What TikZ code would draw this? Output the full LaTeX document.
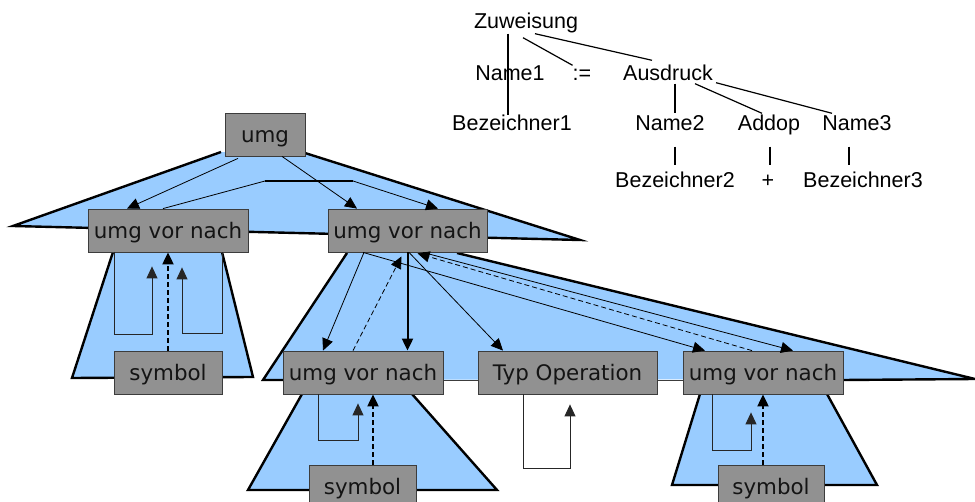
\documentclass[tikz,border=0pt]{standalone}
\usepackage{fontspec}
\setmainfont{Liberation Sans}
\newfontfamily\boxfont{DejaVu Sans}
\usetikzlibrary{arrows.meta}
\definecolor{triblue}{RGB}{153,204,255}
\definecolor{boxgray}{RGB}{145,145,145}
\definecolor{boxline}{RGB}{60,60,60}
\begin{document}
\begin{tikzpicture}[x=1pt,y=-1pt,
  box/.style={draw=boxline, line width=0.8pt, fill=boxgray, inner sep=0pt,
    minimum height=43pt, text height=16pt, text depth=0pt,
    font=\boxfont\fontsize{21.4}{25}\selectfont, text=black!92},
  word/.style={inner sep=0pt, anchor=base, text height=15.5pt, text depth=4.5pt,
    font=\fontsize{21.5}{26}\selectfont},
  tri/.style={fill=triblue},
  rim/.style={line width=2.4pt, line join=miter},
  thinrim/.style={line width=0.9pt, draw=boxline},
  tip/.style={-{Triangle[length=12pt,width=11pt]}},
  flow/.style={tip, line width=0.8pt},
  boldflow/.style={tip, line width=2pt},
  back/.style={tip, line width=0.8pt, dash pattern=on 5pt off 3pt},
  boldback/.style={tip, line width=2pt, dash pattern=on 5pt off 3pt},
  loopback/.style={tip, line width=0.9pt, draw=black!85},
  tree/.style={line width=1.2pt}
]
\useasboundingbox (0,0) rectangle (975,502);

% attribute flow areas
\fill[tri] (221,152) -- (13,226) -- (580,240) -- (305,153) -- cycle;
\draw[rim] (221,152) -- (13,226) -- (580,240) -- (305,153);

\fill[tri] (113,252) -- (72,378) -- (253,377) -- (222,252) -- cycle;
\draw[rim] (113,252) -- (72,378) -- (253,377) -- (222,252);

\fill[tri] (347,253) -- (263,380) -- (975,379) -- (457,253) -- cycle;
\draw[rim] (347,253) -- (263,380) -- (283,380);
\draw[thinrim] (443,380) -- (683,380);
\draw[rim] (843,380) -- (975,379) -- (457,253);

\fill[tri] (302,394) -- (248,490) -- (497,490) -- (412,394) -- cycle;
\draw[rim] (302,394) -- (248,490) -- (497,490) -- (412,394);

\fill[tri] (700,394) -- (672,485) -- (877,485) -- (827,394) -- cycle;
\draw[rim] (700,394) -- (672,485) -- (877,485) -- (827,394);

% syntax tree nodes
\node[box, minimum width=80pt]  (umg) at (265,134.5) {umg};
\node[box, minimum width=160pt] (A)   at (168,230.5) {umg vor nach};
\node[box, minimum width=159pt] (B)   at (407.5,230.5) {umg vor nach};
\node[box, minimum width=160pt] (C)   at (363,372.5) {umg vor nach};
\node[box, minimum width=179pt] (D)   at (567.5,372.5) {Typ Operation};
\node[box, minimum width=160pt] (E)   at (763,372.5) {umg vor nach};
\node[box, minimum width=108pt] (S1)  at (168,372.5) {symbol};
\node[box, minimum width=107pt] (S2)  at (362.5,486.5) {symbol};
\node[box, minimum width=106pt] (S3)  at (771,486.5) {symbol};

% flow from umg
\coordinate (j1) at (265,181);
\coordinate (j2) at (353,181);
\draw[flow] ([xshift=-27pt,yshift=-2pt]umg.south) -- ([xshift=-41pt]A.north);
\draw[flow] ([xshift=-5pt]A.north) -- (j1) -- (j2) -- ([xshift=30.5pt]B.north);
\draw[line width=1.8pt] (j1) -- (j2);
\draw[flow] ([xshift=17pt]umg.south) -- ([xshift=-50.5pt]B.north);

% below the left umg vor nach
\draw[loopback] ([xshift=-54pt]A.south) -- ++(0,82) -- ++(38,0) -- ++(0,-68);
\draw[loopback] ([xshift=54pt]A.south) -- ++(0,81) -- ++(-40,0) -- ++(0,-66);
\draw[boldback] (S1.north) -- (A.south);

% below the right umg vor nach
\draw[flow] ([xshift=-43.5pt]B.south) -- ([xshift=-40pt]C.north);
\draw[back] ([xshift=-10pt]C.north) -- ([xshift=-6pt,yshift=-4pt]B.south);
\draw[boldflow] (B.south) -- (B.south |- C.north);
\draw[flow] ([xshift=1.5pt]B.south) -- ([xshift=-64.5pt]D.north);
\draw[flow] ([xshift=-44.5pt]B.south) -- ([xshift=-58pt]E.north);
\draw[back] ([xshift=-11pt]E.north) -- ([xshift=10pt,yshift=-1pt]B.south);
\draw[flow] ([xshift=15.5pt]B.south) -- ([xshift=30pt]E.north);

% lower level
\draw[loopback] ([xshift=-45pt]C.south) -- ++(0,46) -- ++(40,0) -- ++(0,-37);
\draw[boldback] ([xshift=10.5pt]S2.north) -- ([xshift=10pt]C.south);
\draw[loopback] ([xshift=-44.5pt]D.south) -- ++(0,74) -- ++(47,0) -- ++(0,-64);
\draw[loopback] ([xshift=-51pt]E.south) -- ++(0,56) -- ++(39,0) -- ++(0,-38);
\draw[boldback] ([xshift=-8pt]S3.north) -- (E.south);

% derivation tree of the assignment
\node[word] (zuw)    at (526,29)  {Zuweisung};
\node[word] (name1)  at (510,81)  {Name1};
\node[word] (assign) at (582,81)  {:=};
\node[word] (ausdr)  at (668,81)  {Ausdruck};
\node[word] (bez1)   at (512,131) {Bezeichner1};
\node[word] (name2)  at (670,131) {Name2};
\node[word] (addop)  at (769,131) {Addop};
\node[word] (name3)  at (857,131) {Name3};
\node[word] (bez2)   at (675,188) {Bezeichner2};
\node[word] (plus)   at (768,188) {+};
\node[word] (bez3)   at (863,188) {Bezeichner3};

\draw[tree] ([xshift=-2pt]zuw.south -| name1) -- ([xshift=-2pt]bez1.north -| name1);
\draw[tree] ([xshift=-3pt,yshift=-4pt]zuw.south) -- (assign.north west);
\draw[tree] ([xshift=9pt]zuw.south) -- ([xshift=-16pt,yshift=5pt]ausdr.north);
\draw[tree] ([xshift=7pt,yshift=2pt]ausdr.south) -- ([xshift=5pt,yshift=2pt]name2.north);
\draw[tree] ([xshift=27pt,yshift=2pt]ausdr.south) -- ([xshift=-7pt,yshift=2pt]addop.north);
\draw[tree] ([xshift=3pt,yshift=3pt]ausdr.south east) -- ([xshift=-25pt,yshift=2pt]name3.north);
\draw[tree] ([xshift=5pt,yshift=-11pt]name2.south) -- ([yshift=7pt]bez2.north);
\draw[tree] ([xshift=1pt,yshift=-11pt]addop.south) -- ([xshift=2pt,yshift=7pt]plus.north);
\draw[tree] ([xshift=-8pt,yshift=-11pt]name3.south) -- ([xshift=-14pt,yshift=7pt]bez3.north);
\end{tikzpicture}
\end{document}
